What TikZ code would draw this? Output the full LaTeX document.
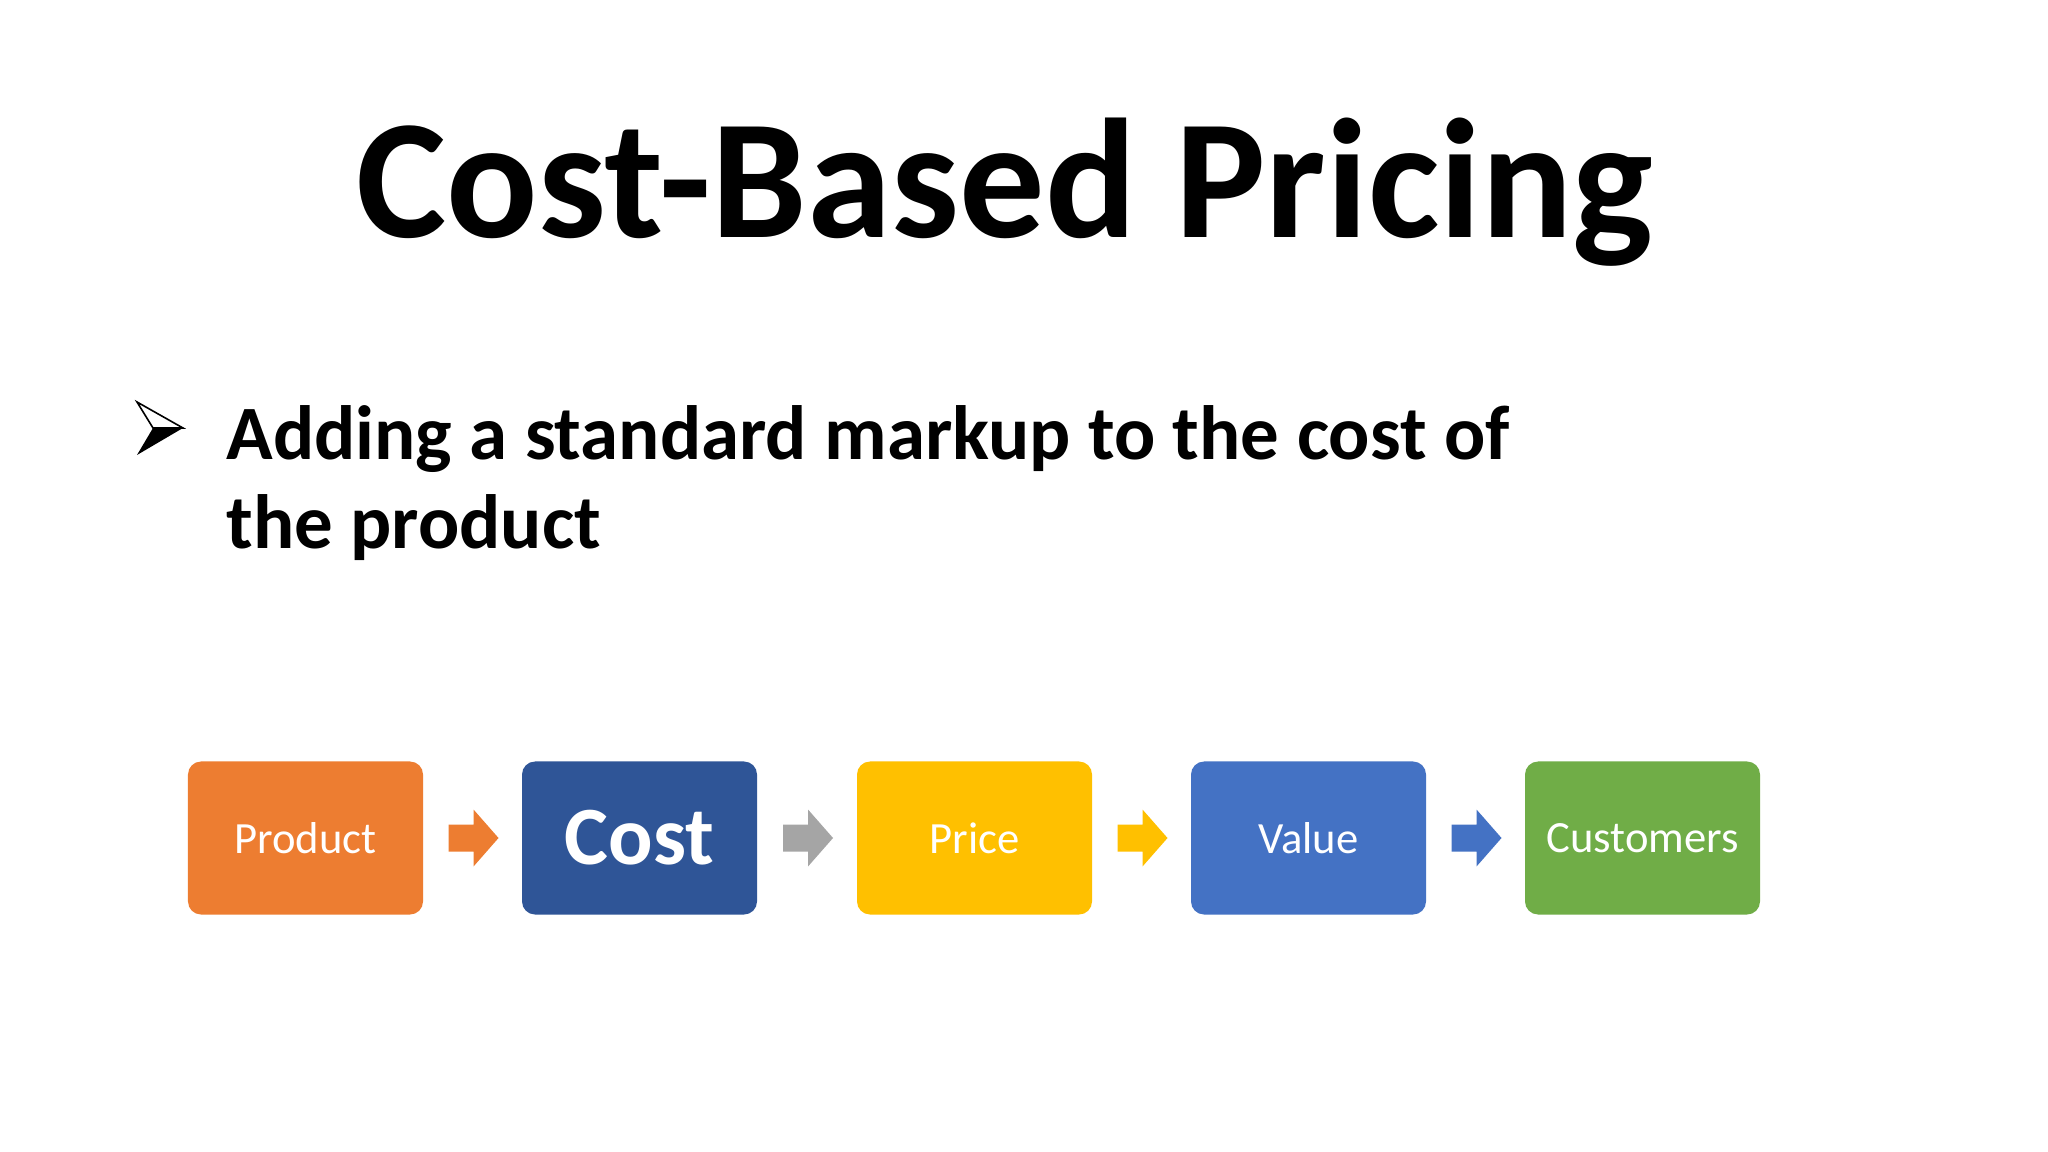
\documentclass[tikz,border=0pt]{standalone}
\usepackage{fontspec}
\setmainfont{Carlito}
\definecolor{cOrange}{HTML}{ED7D31}
\definecolor{cDark}{HTML}{2F5597}
\definecolor{cYellow}{HTML}{FFC000}
\definecolor{cBlue}{HTML}{4472C4}
\definecolor{cGreen}{HTML}{70AD47}
\definecolor{cGray}{HTML}{A5A5A5}
\begin{document}
\begin{tikzpicture}[x=0.5bp,y=-0.5bp,
  flowbox/.style={rounded corners=6.5bp, minimum width=117.5bp, minimum height=76.5bp, inner sep=0pt, text=white, font=\fontsize{22.4}{27}\selectfont}]
\useasboundingbox (0,0) rectangle (2048,1152);
\fill[white] (0,0) rectangle (2048,1152);
% title
\node[anchor=base, inner sep=0pt, font=\fontsize{85.5}{100}\selectfont\bfseries] (title) at (1005,238) {Cost-Based Pricing};
% bullet glyph
\draw[line width=0.8bp, line join=miter] (137,402) -- (183,428) -- (153,428) -- cycle;
\fill[black] (153,428) -- (183,428) -- (137,455) -- cycle;
% bullet text
\node[anchor=base west, inner sep=0pt, font=\fontsize{38.6}{45}\selectfont\bfseries] (line1) at (226,460) {Adding a standard markup to the cost of};
\node[anchor=base west, inner sep=0pt, font=\fontsize{38.6}{45}\selectfont\bfseries] (line2) at (226,549) {the product};
% boxes
\node[flowbox, fill=cOrange] (b1) at (305.5,838) {Product};
\node[flowbox, fill=cDark, font=\fontsize{41.6}{48}\selectfont\bfseries] (b2) at (639.5,838) {Cost};
\node[flowbox, fill=cYellow] (b3) at (974.5,838) {Price};
\node[flowbox, fill=cBlue] (b4) at (1308.5,838) {Value};
\node[flowbox, fill=cGreen] (b5) at (1642.5,838) {Customers};
% arrows
\foreach \a/\b/\c in {b1/b2/cOrange, b2/b3/cGray, b3/b4/cYellow, b4/b5/cBlue}{
  \path (\a.east) -- (\b.west) coordinate[pos=0.5] (m\a);
  \fill[\c, shift={(m\a)}] (-24,-13.5) -- (1,-13.5) -- (1,-28.5) -- (26,0) -- (1,28.5) -- (1,13.5) -- (-24,13.5) -- cycle;
}
\end{tikzpicture}
\end{document}
